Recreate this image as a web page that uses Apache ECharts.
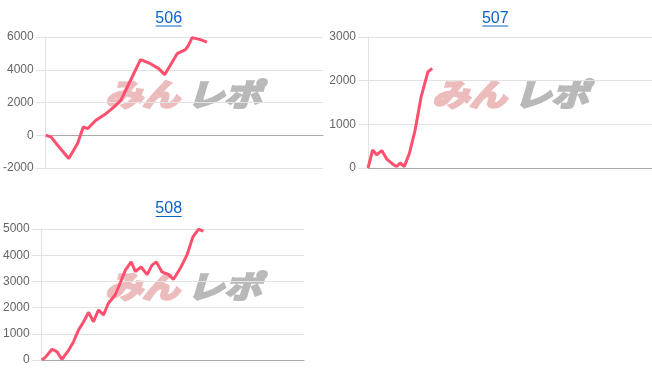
<!DOCTYPE html>
<html>
<head>
<meta charset="utf-8">
<script src="https://cdn.jsdelivr.net/npm/echarts@6/dist/echarts.min.js"></script>
<style>
html,body{margin:0;padding:0;background:#fff;}
#c{width:652px;height:382px;}
</style>
</head>
<body>
<div id="c"></div>
<script>
// ---- data (x: games, y: difference) ----
const titles = ['506', '507', '508'];
const xMax = 10000;

const games506 = [0, 190, 430, 830, 1150, 1355, 1510, 1810, 2170, 2470, 2710, 2930, 3420, 3780, 4075, 4290, 4740, 5040, 5150, 5280, 5575, 5815];
const diff506  = [0, -100, -610, -1420, -510, 510, 400, 915, 1320, 1730, 2135, 2900, 4620, 4370, 4070, 3700, 4980, 5230, 5490, 5960, 5840, 5690];

const games507 = [0, 165, 305, 485, 660, 895, 1010, 1130, 1280, 1460, 1660, 1870, 2110, 2260];
const diff507  = [0, 415, 300, 400, 205, 75, 35, 115, 35, 340, 870, 1630, 2200, 2280];

const games508 = [0, 140, 390, 580, 770, 1030, 1215, 1405, 1600, 1785, 1975, 2165, 2355, 2545, 2800, 2990, 3190, 3410, 3570, 3790, 4020, 4205, 4370, 4585, 4835, 5025, 5280, 5535, 5765, 5975, 6165];
const diff508  = [0, 100, 410, 320, 25, 380, 700, 1150, 1460, 1820, 1460, 1910, 1720, 2165, 2480, 2930, 3430, 3745, 3380, 3550, 3260, 3620, 3745, 3360, 3260, 3080, 3490, 4000, 4700, 4990, 4915];

const yMins = [-2000, 0, 0];
const yMaxs = [6000, 3000, 5000];
const yIntervals = [2000, 1000, 1000];

// ---- layout ----
const grids = [
  {left: 45, top: 37, width: 278, height: 131},
  {left: 368, top: 37, width: 284, height: 131},
  {left: 41, top: 229, width: 263, height: 131}
];
const titlePos = [[168.7, 18.5], [495.3, 18.5], [168.7, 209]];
const logoPos = [[105, 94], [432, 94], [105, 286]];

const FONT = '"Liberation Sans", Arial, sans-serif';
const LINE = '#ff4f6e';

function pairs(xs, ys){ return xs.map((x,i)=>[x, ys[i]]); }
const seriesData = [pairs(games506, diff506), pairs(games507, diff507), pairs(games508, diff508)];

const xAxes = [], yAxes = [], series = [], graphics = [];
for (let i = 0; i < 3; i++) {
  xAxes.push({
    gridIndex: i, type: 'value', min: 0, max: xMax,
    axisLine: {show: true, onZero: true, lineStyle: {color: '#aaaaaa', width: 1}},
    axisTick: {show: false}, axisLabel: {show: false}, splitLine: {show: false}
  });
  yAxes.push({
    gridIndex: i, type: 'value', min: yMins[i], max: yMaxs[i], interval: yIntervals[i],
    axisLine: {show: true, lineStyle: {color: '#e2e2e2'}},
    axisTick: {show: true, length: 10, lineStyle: {color: '#e2e2e2'}},
    axisLabel: {color: '#666666', fontSize: 12, fontFamily: FONT, margin: 12, formatter: v => String(v)},
    splitLine: {show: true, lineStyle: {color: '#e2e2e2', width: 1}}
  });
  series.push({
    type: 'line', xAxisIndex: i, yAxisIndex: i, data: seriesData[i],
    showSymbol: false, symbol: 'none', smooth: false, z: 5,
    lineStyle: {color: LINE, width: 3}, silent: true, animation: false
  });
  // title text + underline
  const [tx, ty] = titlePos[i];
  graphics.push({
    type: 'text', x: tx, y: ty, z: 10,
    style: {text: titles[i], fill: '#0b63c5', font: '16px ' + FONT, textAlign: 'center', textVerticalAlign: 'middle'}
  });
  graphics.push({
    type: 'line', z: 10,
    shape: {x1: tx - 13, y1: ty + 7.5, x2: tx + 13, y2: ty + 7.5},
    style: {stroke: '#0b63c5', lineWidth: 1}
  });
  // watermark logo
  const [lx, ly] = logoPos[i];
  graphics.push({
    type: 'text', x: lx, y: ly, scaleX: 1.2, z: 0,
    style: {text: 'みん', fill: '#ecbcbd', stroke: '#ecbcbd', lineWidth: 2.5,
            font: 'italic bold 31px "Noto Sans CJK JP"', textAlign: 'left', textVerticalAlign: 'middle'}
  });
  graphics.push({
    type: 'text', x: lx + 82, y: ly, scaleX: 1.2, z: 0,
    style: {text: 'レポ', fill: '#b9b9b9', stroke: '#b9b9b9', lineWidth: 2.5,
            font: 'italic bold 31px "Noto Sans CJK JP"', textAlign: 'left', textVerticalAlign: 'middle'}
  });
}

const chart = echarts.init(document.getElementById('c'), null, {renderer: 'canvas'});
chart.setOption({
  animation: false,
  grid: grids.map(g => Object.assign({containLabel: false}, g)),
  xAxis: xAxes,
  yAxis: yAxes,
  series: series,
  graphic: {elements: graphics}
});
</script>
</body>
</html>
